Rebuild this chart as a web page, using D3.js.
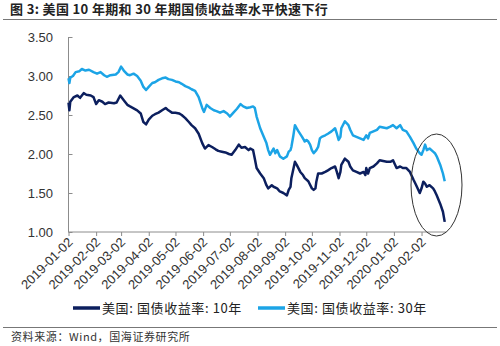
<!DOCTYPE html>
<html><head><meta charset="utf-8">
<script src="https://cdn.jsdelivr.net/npm/d3@7"></script>
<style>
html,body{margin:0;padding:0;background:#fff;}
svg{display:block;}
</style></head>
<body><svg id="c" width="500" height="346"></svg>
<script>
const titleText = "图 3:  美国 10 年期和 30 年期国债收益率水平快速下行";
const sourceText = "资料来源：Wind，国海证券研究所";
const seriesNames = ["美国: 国债收益率: 10年", "美国: 国债收益率: 30年"];
const yTicks = [1.00, 1.50, 2.00, 2.50, 3.00, 3.50];
const xTickLabels = ["2019-01-02","2019-02-02","2019-03-02","2019-04-02","2019-05-02","2019-06-02","2019-07-02","2019-08-02","2019-09-02","2019-10-02","2019-11-02","2019-12-02","2020-01-02","2020-02-02"];

const dates10 = ["2019-01-02","2019-01-03","2019-01-04","2019-01-08","2019-01-12","2019-01-15","2019-01-19","2019-01-22","2019-01-27","2019-01-30","2019-02-02","2019-02-05","2019-02-09","2019-02-12","2019-02-16","2019-02-22","2019-02-25","2019-03-01","2019-03-05","2019-03-09","2019-03-12","2019-03-16","2019-03-20","2019-03-24","2019-03-27","2019-03-30","2019-04-02","2019-04-06","2019-04-09","2019-04-13","2019-04-17","2019-04-21","2019-04-24","2019-04-28","2019-05-02","2019-05-06","2019-05-09","2019-05-13","2019-05-17","2019-05-20","2019-05-24","2019-05-28","2019-06-01","2019-06-04","2019-06-08","2019-06-12","2019-06-16","2019-06-19","2019-06-23","2019-06-27","2019-07-01","2019-07-04","2019-07-08","2019-07-12","2019-07-15","2019-07-19","2019-07-23","2019-07-25","2019-07-28","2019-07-30","2019-08-01","2019-08-05","2019-08-09","2019-08-12","2019-08-14","2019-08-18","2019-08-20","2019-08-24","2019-08-27","2019-08-31","2019-09-04","2019-09-06","2019-09-08","2019-09-09","2019-09-13","2019-09-15","2019-09-19","2019-09-22","2019-09-24","2019-09-28","2019-10-02","2019-10-04","2019-10-06","2019-10-07","2019-10-09","2019-10-13","2019-10-17","2019-10-20","2019-10-24","2019-10-28","2019-10-30","2019-11-01","2019-11-03","2019-11-04","2019-11-08","2019-11-10","2019-11-12","2019-11-14","2019-11-17","2019-11-21","2019-11-25","2019-11-29","2019-12-01","2019-12-02","2019-12-04","2019-12-06","2019-12-10","2019-12-14","2019-12-17","2019-12-21","2019-12-25","2019-12-29","2020-01-01","2020-01-05","2020-01-09","2020-01-12","2020-01-16","2020-01-20","2020-01-24","2020-01-27","2020-01-31","2020-02-02","2020-02-04","2020-02-06","2020-02-08","2020-02-11","2020-02-15","2020-02-17","2020-02-19","2020-02-23","2020-02-26","2020-02-28"];
const yield10 = [2.66,2.56,2.67,2.73,2.75,2.72,2.78,2.76,2.75,2.73,2.64,2.69,2.67,2.64,2.66,2.65,2.66,2.75,2.69,2.63,2.61,2.585,2.56,2.52,2.41,2.38,2.44,2.49,2.51,2.53,2.56,2.59,2.56,2.53,2.53,2.52,2.50,2.46,2.41,2.37,2.33,2.26,2.14,2.07,2.115,2.09,2.06,2.04,2.03,2.02,2.00,1.99,2.05,2.12,2.08,2.09,2.05,2.07,2.05,1.94,1.82,1.75,1.69,1.60,1.56,1.60,1.58,1.56,1.52,1.50,1.47,1.54,1.58,1.69,1.90,1.86,1.77,1.73,1.69,1.65,1.56,1.54,1.56,1.645,1.75,1.75,1.77,1.79,1.82,1.84,1.77,1.69,1.77,1.86,1.94,1.92,1.90,1.84,1.79,1.77,1.75,1.77,1.73,1.82,1.75,1.82,1.84,1.88,1.92,1.91,1.90,1.90,1.92,1.82,1.84,1.82,1.82,1.77,1.67,1.60,1.50,1.56,1.645,1.62,1.58,1.60,1.56,1.52,1.47,1.36,1.26,1.13];

const dates30 = ["2019-01-02","2019-01-03","2019-01-04","2019-01-07","2019-01-10","2019-01-14","2019-01-17","2019-01-21","2019-01-25","2019-01-30","2019-02-03","2019-02-07","2019-02-11","2019-02-14","2019-02-18","2019-02-24","2019-02-27","2019-03-02","2019-03-05","2019-03-09","2019-03-12","2019-03-16","2019-03-20","2019-03-24","2019-03-27","2019-03-30","2019-04-02","2019-04-06","2019-04-09","2019-04-13","2019-04-17","2019-04-21","2019-04-24","2019-04-28","2019-05-02","2019-05-06","2019-05-09","2019-05-13","2019-05-17","2019-05-20","2019-05-24","2019-05-28","2019-06-01","2019-06-03","2019-06-06","2019-06-10","2019-06-14","2019-06-17","2019-06-21","2019-06-25","2019-06-29","2019-07-02","2019-07-06","2019-07-10","2019-07-14","2019-07-17","2019-07-21","2019-07-25","2019-07-28","2019-07-30","2019-08-01","2019-08-05","2019-08-09","2019-08-12","2019-08-14","2019-08-16","2019-08-18","2019-08-20","2019-08-22","2019-08-24","2019-08-27","2019-08-31","2019-09-04","2019-09-06","2019-09-08","2019-09-09","2019-09-11","2019-09-13","2019-09-15","2019-09-17","2019-09-21","2019-09-23","2019-09-24","2019-09-26","2019-09-28","2019-09-30","2019-10-02","2019-10-04","2019-10-07","2019-10-09","2019-10-11","2019-10-13","2019-10-17","2019-10-20","2019-10-24","2019-10-28","2019-10-30","2019-11-01","2019-11-03","2019-11-04","2019-11-08","2019-11-12","2019-11-14","2019-11-17","2019-11-21","2019-11-25","2019-11-29","2019-12-02","2019-12-04","2019-12-06","2019-12-10","2019-12-14","2019-12-17","2019-12-21","2019-12-25","2019-12-29","2020-01-01","2020-01-05","2020-01-09","2020-01-12","2020-01-16","2020-01-20","2020-01-24","2020-01-27","2020-01-31","2020-02-02","2020-02-04","2020-02-06","2020-02-08","2020-02-11","2020-02-15","2020-02-17","2020-02-19","2020-02-23","2020-02-26","2020-02-28"];
const yield30 = [2.97,2.91,2.98,3.00,3.05,3.06,3.09,3.07,3.08,3.05,3.03,3.05,3.01,2.99,3.01,3.02,3.05,3.12,3.07,3.02,3.01,3.03,3.00,2.94,2.86,2.82,2.86,2.91,2.92,2.95,2.97,2.98,2.96,2.95,2.93,2.92,2.90,2.87,2.85,2.83,2.81,2.73,2.59,2.54,2.63,2.59,2.56,2.55,2.53,2.55,2.52,2.48,2.53,2.58,2.64,2.61,2.59,2.60,2.61,2.59,2.48,2.33,2.22,2.14,2.05,1.99,2.03,2.07,2.01,2.05,1.97,1.94,1.97,2.03,2.05,2.09,2.22,2.37,2.33,2.29,2.22,2.18,2.16,2.18,2.16,2.12,2.05,2.01,2.05,2.09,2.20,2.22,2.24,2.26,2.29,2.33,2.26,2.18,2.22,2.33,2.42,2.37,2.31,2.24,2.22,2.20,2.18,2.24,2.20,2.27,2.29,2.31,2.35,2.34,2.33,2.35,2.37,2.33,2.37,2.31,2.29,2.22,2.14,2.07,2.01,1.99,2.05,2.12,2.05,2.07,2.03,2.01,1.97,1.86,1.75,1.65];

const parse = d3.timeParse("%Y-%m-%d");
const svg = d3.select("#c");
const colors = ["#0c1f5e", "#1ca4e6"];
const axisColor = "#8c8c8c";
const numFont = "Arial, 'Liberation Sans', sans-serif";
const cjkFont = "'Noto Sans CJK SC', sans-serif";

const x = d3.scaleTime().domain([parse("2019-01-02"), parse("2020-03-01")]).range([68.5, 446.5]);
const y = d3.scaleLinear().domain([1.0, 3.5]).range([232, 37]);

// title
svg.append("text").attr("x", 10).attr("y", 14).attr("font-family", cjkFont)
  .attr("font-weight", "bold").attr("font-size", 13).attr("letter-spacing", 0.35)
  .attr("fill", "#222").text(titleText);
svg.append("line").attr("x1", 3).attr("x2", 497).attr("y1", 19.5).attr("y2", 19.5)
  .attr("stroke", "#777").attr("stroke-width", 1);

// y axis
const yAxis = svg.append("g").attr("transform", "translate(68.5,0)")
  .call(d3.axisRight(y).tickValues(yTicks).tickSize(4).tickFormat(""));
yAxis.selectAll("line").attr("stroke", axisColor);
yAxis.select(".domain").attr("stroke", axisColor).attr("d", `M0,${y(3.5)}V${y(1.0)}`);
svg.append("g").selectAll("text").data(yTicks).join("text")
  .attr("x", 53).attr("y", d => y(d)).attr("dy", "0.35em").attr("text-anchor", "end")
  .attr("font-family", numFont).attr("font-size", 13).attr("fill", "#333")
  .text(d => d3.format(".2f")(d));

// x axis
const xAxis = svg.append("g").attr("transform", "translate(0,232)")
  .call(d3.axisBottom(x).tickValues(xTickLabels.map(parse)).tickSize(4).tickFormat(""));
xAxis.selectAll("line").attr("stroke", axisColor);
xAxis.select(".domain").attr("stroke", axisColor).attr("d", "M68.5,0H446.5");
svg.append("g").selectAll("text").data(xTickLabels).join("text")
  .attr("transform", d => `translate(${x(parse(d)) + 5},${243}) rotate(-45)`)
  .attr("text-anchor", "end").attr("font-family", numFont).attr("font-size", 13).attr("fill", "#333")
  .text(d => d);

// lines
const line = d3.line().x(d => x(d[0])).y(d => y(d[1]));
const s10 = dates10.map((d, i) => [parse(d), yield10[i]]);
const s30 = dates30.map((d, i) => [parse(d), yield30[i]]);
[s30, s10].forEach((s, k) => {
  svg.append("path").datum(s).attr("d", line).attr("fill", "none")
    .attr("stroke", k === 0 ? colors[1] : colors[0]).attr("stroke-width", 2.5)
    .attr("stroke-linejoin", "round");
});

// ellipse annotation
svg.append("ellipse").attr("cx", 436.5).attr("cy", 185).attr("rx", 25.5).attr("ry", 51)
  .attr("fill", "none").attr("stroke", "#333").attr("stroke-width", 1);

// legend
const legendX = [73, 258];
seriesNames.forEach((n, i) => {
  svg.append("line").attr("x1", legendX[i]).attr("x2", legendX[i] + 27).attr("y1", 308).attr("y2", 308)
    .attr("stroke", colors[i]).attr("stroke-width", 3.5);
  svg.append("text").attr("x", legendX[i] + 29).attr("y", 312.5).attr("font-family", cjkFont)
    .attr("font-size", 13).attr("letter-spacing", 0.6).attr("fill", "#222").text(n);
});

// source
svg.append("line").attr("x1", 3).attr("x2", 497).attr("y1", 327.5).attr("y2", 327.5)
  .attr("stroke", "#777").attr("stroke-width", 1);
svg.append("text").attr("x", 11).attr("y", 341).attr("font-family", cjkFont)
  .attr("font-size", 11).attr("letter-spacing", 0.6).attr("fill", "#333").text(sourceText);
</script></body></html>
